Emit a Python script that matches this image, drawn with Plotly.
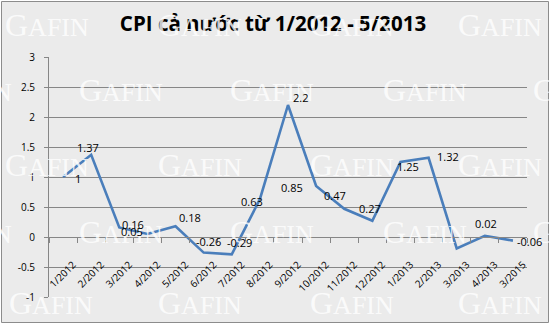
import plotly.graph_objects as go

# ---- data ----
categories = ["1/2012", "2/2012", "3/2012", "4/2012", "5/2012", "6/2012", "7/2012",
              "8/2012", "9/2012", "10/2012", "11/2012", "12/2012", "1/2013", "2/2013",
              "3/2013", "4/2013", "3/2015"]
cpi = [1.0, 1.37, 0.16, 0.05, 0.18, -0.26, -0.29, 0.63, 2.2, 0.85, 0.47, 0.27,
       1.25, 1.32, -0.19, 0.02, -0.06]
labels = ["1", "1.37", "0.16", "0.05", "0.18", "-0.26", "-0.29", "0.63", "2.2", "0.85",
          "0.47", "0.27", "1.25", "1.32", "", "0.02", "-0.06"]
y_ticks = [-1, -0.5, 0, 0.5, 1, 1.5, 2, 2.5, 3]
y_ticktext = ["-1", "-0.5", "0", "0.5", "1", "1.5", "2", "2.5", "3"]
title_text = "CPI cả nước từ 1/2012 - 5/2013"

# ---- label offsets (pixels, style only) ----
label_dx = [15, -3, 14, -15, 14, 5, 8, -8, 12, -24, -9, -2, 8, 19, 0, 1, 17]
label_dy = [1, -7, -3, -3, -9, -11, -12, 2, -8, 1, -13, -12, 4, -1, 0, -12, 1]

W, H = 551, 328
L, R, T, B = 49, 24, 57, 31
pw, ph = W - L - R, H - T - B

def px(x):
    return (x - L) / pw

def py(y):
    return (H - B - y) / ph

BG = "#EBEBEB"
GRID = "#868686"
LINE = "#4A7EBB"
FONT = "Open Sans"

fig = go.Figure()
fig.add_trace(go.Scatter(
    x=categories, y=cpi, mode="lines",
    line=dict(color=LINE, width=2.6),
    hoverinfo="skip", showlegend=False,
))

annotations = []
# watermark logo (decorative)
wm_rows = [(25, [47, 200, 352, 500]), (90, [-30, 121, 272, 425, 575]),
           (165, [47, 200, 352, 500]), (232, [-30, 121, 272, 425, 575]),
           (303, [51, 200, 352, 500])]
for yy, xs in wm_rows:
    for xx in xs:
        annotations.append(dict(
            xref="paper", yref="paper", x=px(xx), y=py(yy),
            text="G<span style='font-size:26px'>AFIN</span>",
            showarrow=False, xanchor="center", yanchor="middle",
            font=dict(family="Liberation Serif", size=32, color="rgba(255,255,255,0.8)"),
        ))

for c, v, t, dx, dy in zip(categories, cpi, labels, label_dx, label_dy):
    if not t:
        continue
    annotations.append(dict(
        x=c, y=v, xref="x", yref="y", text=t, showarrow=False,
        xshift=dx, yshift=-dy, xanchor="center", yanchor="middle",
        font=dict(family=FONT, size=11, color="black"),
    ))

fig.update_layout(
    width=W, height=H,
    margin=dict(l=L, r=R, t=T, b=B, pad=0),
    paper_bgcolor="white",
    plot_bgcolor="rgba(0,0,0,0)",
    title=dict(text="<b>" + title_text + "</b>", x=273 / W, xanchor="center",
               y=1 - 24 / H, yanchor="middle",
               font=dict(family=FONT, size=20.5, color="black")),
    annotations=annotations,
    shapes=[dict(type="rect", xref="paper", yref="paper",
                 x0=px(1.5), x1=px(548.5), y0=py(322.5), y1=py(1.5),
                 fillcolor=BG, line=dict(color="#8C8C8C", width=1), layer="below")],
    xaxis=dict(
        type="category", range=[-0.5, len(categories) - 0.5],
        anchor="free", position=0.25,
        showline=True, linecolor=GRID, linewidth=1,
        ticks="outside", tickson="boundaries", ticklen=5, tickcolor=GRID,
        tickangle=-45, ticklabelstandoff=17, ticklabelshift=10,
        tickfont=dict(family=FONT, size=10, color="black"),
        showgrid=False, zeroline=False,
    ),
    yaxis=dict(
        range=[-1, 3], tickvals=y_ticks, ticktext=y_ticktext,
        showline=True, linecolor=GRID, linewidth=1,
        ticks="outside", ticklen=4, tickcolor=GRID, ticklabelstandoff=7,
        showgrid=True, gridcolor=GRID, gridwidth=1, zeroline=False,
        tickfont=dict(family=FONT, size=10, color="black"),
    ),
)

fig.write_html("out.html")
